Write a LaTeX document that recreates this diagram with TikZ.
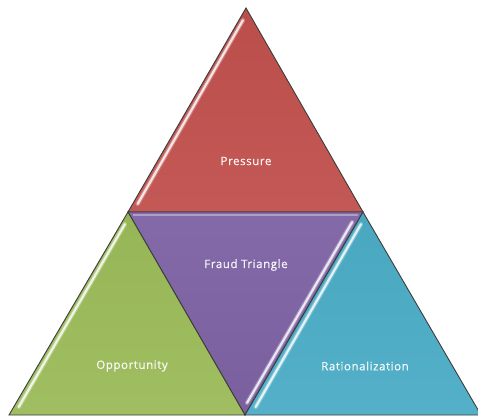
\documentclass[tikz,border=0pt]{standalone}
\usepackage{fontspec}
\setsansfont{Open Sans}[LetterSpace=5, FakeBold=0.6]
\usetikzlibrary{calc}
\definecolor{pressRed}{RGB}{192,80,77}
\definecolor{fraudPurple}{RGB}{126,98,164}
\definecolor{oppGreen}{RGB}{155,187,89}
\definecolor{ratBlue}{RGB}{75,172,198}
\definecolor{edgeGray}{RGB}{60,60,60}
\tikzset{
  segment/.style={draw=edgeGray, line width=0.9pt, line join=miter},
  gloss/.style={draw=white, line width=2.2pt, line cap=round, draw opacity=0.8},
  glow/.style={draw=white, line width=4.5pt, line cap=round, draw opacity=0.25},
  label/.style={font=\sffamily\fontsize{11.5}{13}\selectfont, text=white, text opacity=0.9, inner sep=0pt},
}
\begin{document}
\begin{tikzpicture}[x=1pt,y=-1pt]
\useasboundingbox (0,0) rectangle (478,417);
% corner points of the segmented pyramid
\coordinate (apex) at (246,8);
\coordinate (midL) at (128,212);
\coordinate (midR) at (363,212);
\coordinate (baseL) at (9,415);
\coordinate (baseM) at (245,415);
\coordinate (baseR) at (481,415);

% top segment
\shade[top color=pressRed!97!black, bottom color=pressRed!95!white] (apex) -- (midR) -- (midL) -- cycle;
\draw[segment] (apex) -- (midR) -- (midL) -- cycle;
% middle (inverted) segment
\shade[top color=fraudPurple!95!white, bottom color=fraudPurple!97!black] (midL) -- (midR) -- (baseM) -- cycle;
\draw[segment] (midL) -- (midR) -- (baseM) -- cycle;
% lower left segment
\shade[top color=oppGreen!97!black, bottom color=oppGreen!95!white] (midL) -- (baseM) -- (baseL) -- cycle;
\draw[segment] (midL) -- (baseM) -- (baseL) -- cycle;
% lower right segment
\shade[top color=ratBlue!97!black, bottom color=ratBlue!95!white] (midR) -- (baseR) -- (baseM) -- cycle;
\draw[segment] (midR) -- (baseR) -- (baseM) -- cycle;

% glossy highlights along one edge of each segment
\draw[glow] ($(apex)!0.06!(midL)+(4,0)$) -- ($(apex)!0.96!(midL)+(5,0)$);
\draw[gloss] ($(apex)!0.06!(midL)+(4,0)$) -- ($(apex)!0.96!(midL)+(5,0)$);
\draw[glow] ($(midR)!0.05!(baseM)+(-5,0)$) -- ($(midR)!0.94!(baseM)+(-5,0)$);
\draw[gloss] ($(midR)!0.05!(baseM)+(-5,0)$) -- ($(midR)!0.94!(baseM)+(-5,0)$);
\draw[glow] ($(midL)!0.06!(baseL)+(4,0)$) -- ($(midL)!0.96!(baseL)+(5,0)$);
\draw[gloss] ($(midL)!0.06!(baseL)+(4,0)$) -- ($(midL)!0.96!(baseL)+(5,0)$);
\draw[glow] ($(midR)!0.06!(baseM)+(5,0)$) -- ($(midR)!0.96!(baseM)+(6,0)$);
\draw[gloss] ($(midR)!0.06!(baseM)+(5,0)$) -- ($(midR)!0.96!(baseM)+(6,0)$);
% light band under the top edge of the inverted segment
\draw[draw=white, draw opacity=0.35, line width=2pt] ($(midL)+(5,3)$) -- ($(midR)+(-5,3)$);

% segment labels
\node[label] (pressure) at (246,161) {Pressure};
\node[label] (fraud) at (246,265) {Fraud Triangle};
\node[label] (opportunity) at (132,366) {Opportunity};
\node[label] (rational) at (365,366) {Rationalization};
\end{tikzpicture}
\end{document}
